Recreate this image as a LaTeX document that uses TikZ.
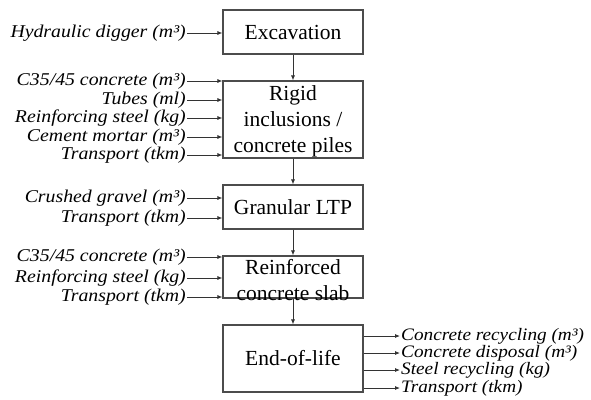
\documentclass[tikz,border=0pt]{standalone}
\usepackage{fontspec}
\setmainfont{Liberation Serif}
\newfontfamily\labelfont[FakeStretch=1.1]{Liberation Serif}
\usetikzlibrary{arrows.meta}
\begin{document}
\begin{tikzpicture}[x=1pt,y=-1pt,
  stage/.style={draw=black!70, line width=1.1pt, minimum width=140pt, inner sep=0pt},
  stagetext/.style={align=center, inner sep=0pt, font=\fontsize{21.5}{26}\selectfont},
  inlabel/.style={anchor=east, inner sep=1pt, font=\labelfont\fontsize{18}{18}\selectfont\itshape},
  outlabel/.style={anchor=west, inner sep=1pt, font=\labelfont\fontsize{17.5}{18}\selectfont\itshape},
  flow/.style={draw=black!80, line width=0.8pt, -{Latex[length=5pt,width=4pt]}}]
\useasboundingbox (0,0) rectangle (591,399);

% process stages
\node[stage, minimum height=44pt] (exc) at (293,32) {};
\node[stagetext] at (exc.center) {Excavation};
\node[stage, minimum height=77pt] (rig) at (293,119.5) {};
\node[stagetext] at ([yshift=-2pt]rig.center) {Rigid\\inclusions /\\concrete piles};
\node[stage, minimum height=44pt] (ltp) at (293,207) {};
\node[stagetext] at (ltp.center) {Granular LTP};
\node[stage, minimum height=42pt] (slab) at (293,277) {};
\node[stagetext] at ([yshift=-3pt]slab.center) {Reinforced\\concrete slab};
\node[stage, minimum height=67pt] (eol) at (293,358.5) {};
\node[stagetext] at (eol.center) {End-of-life};

% main flow
\draw[flow] (exc) -- (rig);
\draw[flow] (rig) -- (ltp);
\draw[flow] (ltp) -- (slab);
\draw[flow] (slab) -- (eol);

% inputs
\node[inlabel] (i1) at (187,33) {Hydraulic digger (m³)};
\node[inlabel] (i2) at (187,81) {C35/45 concrete (m³)};
\node[inlabel] (i3) at (187,100) {Tubes (ml)};
\node[inlabel] (i4) at (187,118) {Reinforcing steel (kg)};
\node[inlabel] (i5) at (187,137) {Cement mortar (m³)};
\node[inlabel] (i6) at (187,155) {Transport (tkm)};
\node[inlabel] (i7) at (187,198) {Crushed gravel (m³)};
\node[inlabel] (i8) at (187,218) {Transport (tkm)};
\node[inlabel] (i9) at (187,257) {C35/45 concrete (m³)};
\node[inlabel] (i10) at (187,278) {Reinforcing steel (kg)};
\node[inlabel] (i11) at (187,297) {Transport (tkm)};

\draw[flow] (i1.east) -- (i1.east -| exc.west);
\foreach \n in {i2,i3,i4,i5,i6} \draw[flow] (\n.east) -- (\n.east -| rig.west);
\foreach \n in {i7,i8} \draw[flow] (\n.east) -- (\n.east -| ltp.west);
\foreach \n in {i9,i10,i11} \draw[flow] (\n.east) -- (\n.east -| slab.west);

% outputs
\node[outlabel] (o1) at (400,336) {Concrete recycling (m³)};
\node[outlabel] (o2) at (400,353) {Concrete disposal (m³)};
\node[outlabel] (o3) at (400,370) {Steel recycling (kg)};
\node[outlabel] (o4) at (400,388) {Transport (tkm)};
\foreach \n in {o1,o2,o3,o4} \draw[flow] (\n.west -| eol.east) -- (\n.west);
\end{tikzpicture}
\end{document}
